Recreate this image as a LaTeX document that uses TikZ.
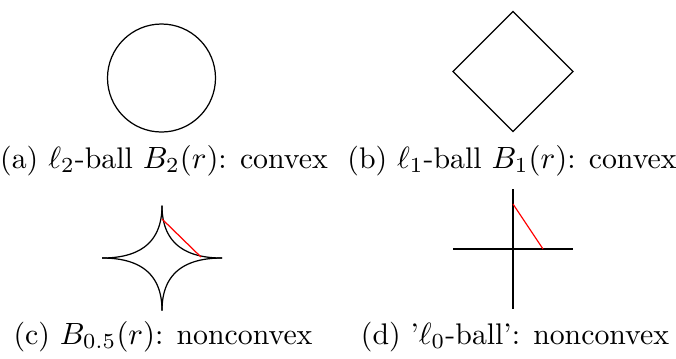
\documentclass[tikz,border=0pt]{standalone}
\usepackage{amsmath,amssymb}
\usetikzlibrary{positioning}
\begin{document}
\begin{tikzpicture}[x=0.3254pt, y=-0.3254pt,
    ball/.style={draw=black, line width=0.4pt},
    axis/.style={draw=black, line width=0.8pt},
    chord/.style={draw=red, line width=0.4pt},
    subcap/.style={anchor=base, inner sep=0pt, font=\fontsize{9.7}{12}\selectfont}]
    \useasboundingbox (0,0) rectangle (676,358);
    % l2-ball
    \draw[ball] (161.5,78) circle (54);
    % l1-ball
    \draw[ball] (513,11.5) -- (573,71.5) -- (513,131.5) -- (453,71.5) -- cycle;
    % B_{0.5}-ball, one arc per quadrant
    \foreach \sx in {-1,1}
      \foreach \sy in {-1,1}
        \draw[ball, shift={(162,258)}] plot[domain=0:90, samples=100]
            ({\sx*60*(cos(\x))^4}, {\sy*52.5*(sin(\x))^4});
    \coordinate (astA) at (162,219);
    \coordinate (astB) at (201,257);
    \draw[chord] (astA) -- (astB);
    % l0-ball
    \coordinate (zl) at (453,249);
    \coordinate (zr) at (573,249);
    \coordinate (zt) at (513,189);
    \coordinate (zb) at (513,309);
    \coordinate (zA) at (513,204);
    \coordinate (zB) at (543,249);
    \draw[axis] (zl) -- (zr);
    \draw[axis] (zt) -- (zb);
    \draw[chord] (zA) -- (zB);

    \node[subcap] (capA) at (164,168) {(a) $\ell_2$-ball $B_2(r)$: convex};
    \node[subcap] (capB) at (512,168) {(b) $\ell_1$-ball $B_1(r)$: convex};
    \node[subcap] (capC) at (163,344) {(c) $B_{0.5}(r)$: nonconvex};
    \node[subcap] (capD) at (515,344) {(d) '$\ell_0$-ball': nonconvex};
\end{tikzpicture}
\end{document}
